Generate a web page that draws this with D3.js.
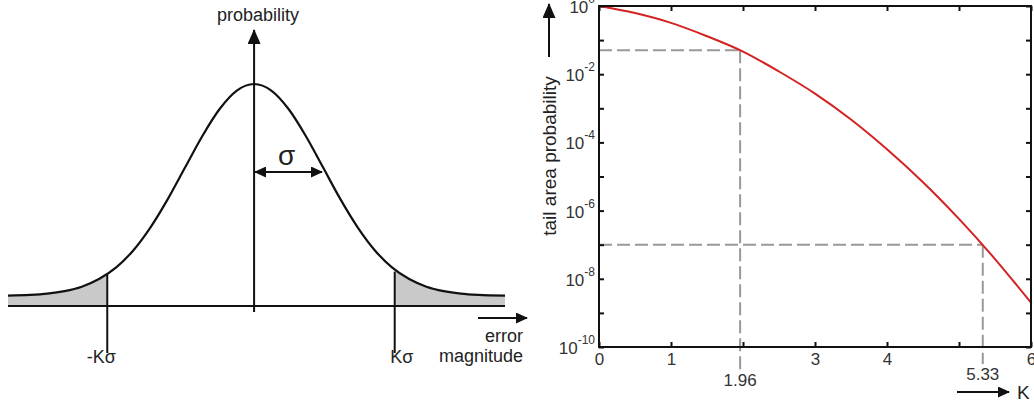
<!DOCTYPE html>
<html>
<head>
<meta charset="utf-8">
<script src="https://cdn.jsdelivr.net/npm/d3@7"></script>
<style>
  body { margin: 0; background: #fff; }
  text { font-family: "Liberation Sans", Arial, sans-serif; }
</style>
</head>
<body>
<svg></svg>
<script>
// ---- data ----
// left: bell curve, x in sigma units, y relative height
const bellX = [-3.57, -3.25, -3, -2.75, -2.5, -2.25, -2, -1.75, -1.5, -1.25, -1, -0.75, -0.5, -0.25, 0,
               0.25, 0.5, 0.75, 1, 1.25, 1.5, 1.75, 2, 2.25, 2.5, 2.75, 3, 3.25, 3.64];
const bellY = [0.002, 0.005, 0.011, 0.023, 0.044, 0.08, 0.135, 0.216, 0.325, 0.458, 0.607, 0.755, 0.882, 0.969, 1,
               0.969, 0.882, 0.755, 0.607, 0.458, 0.325, 0.216, 0.135, 0.08, 0.044, 0.023, 0.011, 0.005, 0.0015];
const kMarks = [-2.13, 2.04];
const kLabels = ["-K\u03c3", "K\u03c3"];

// right: tail area probability vs K
const tailK = [0, 0.5, 1, 1.5, 2, 2.5, 3, 3.5, 4, 4.5, 5, 5.5, 6];
const tailP = [1, 0.62, 0.32, 0.13, 0.046, 0.012, 0.0027, 4.7e-4, 6.3e-5, 6.8e-6, 5.7e-7, 3.8e-8, 2.0e-9];
const guideK = [1.96, 5.33];
const guideP = [0.05, 1.0e-7];
const guideLabels = ["1.96", "5.33"];
const xTicks = [0, 1, 2, 3, 4, 5, 6];
const xTickLabels = ["0", "1", "", "3", "4", "", "6"];
const yExp = [0, -1, -2, -3, -4, -5, -6, -7, -8, -9, -10];
const yLabelExp = [0, -2, -4, -6, -8, -10];

const width = 1034, height = 407;
let svg = d3.select("svg").attr("width", width).attr("height", height);

let defs = svg.append("defs");
function arrowMarker(id, len, wid) {
  defs.append("marker")
    .attr("id", id)
    .attr("markerUnits", "userSpaceOnUse")
    .attr("viewBox", `0 ${-wid / 2} ${len} ${wid}`)
    .attr("refX", len - 1).attr("refY", 0)
    .attr("markerWidth", len).attr("markerHeight", wid)
    .attr("orient", "auto-start-reverse")
    .append("path")
    .attr("d", `M0,${-wid / 2}L${len},0L0,${wid / 2}Z`)
    .attr("fill", "#111");
}
arrowMarker("arrowBig", 15, 13);
arrowMarker("arrowSmall", 12, 11);

// ================= left panel =================
const xL = d3.scaleLinear().domain([-3.57, 3.64]).range([8, 505]);
const yL = d3.scaleLinear().domain([0, 1]).range([296, 84]);
const baseY = 306;
let bell = bellX.map((x, i) => ({x: x, y: bellY[i]}));

let left = svg.append("g");

defs.append("clipPath").attr("id", "tails")
  .selectAll("rect")
  .data([[0, xL(kMarks[0])], [xL(kMarks[1]), width / 2]])
  .enter().append("rect")
  .attr("x", d => d[0]).attr("width", d => d[1] - d[0])
  .attr("y", 0).attr("height", height);

left.append("path")
  .datum(bell)
  .attr("clip-path", "url(#tails)")
  .attr("fill", "#c9c9c9")
  .attr("d", d3.area().x(d => xL(d.x)).y0(baseY).y1(d => yL(d.y)).curve(d3.curveMonotoneX));

left.append("line")
  .attr("x1", xL(-3.57)).attr("x2", xL(3.64))
  .attr("y1", baseY).attr("y2", baseY)
  .attr("stroke", "#111").attr("stroke-width", 2);

left.append("path")
  .datum(bell)
  .attr("fill", "none").attr("stroke", "#111").attr("stroke-width", 2.2)
  .attr("d", d3.line().x(d => xL(d.x)).y(d => yL(d.y)).curve(d3.curveMonotoneX));

// vertical probability axis
left.append("line")
  .attr("x1", xL(0)).attr("x2", xL(0))
  .attr("y1", 312).attr("y2", 30)
  .attr("stroke", "#111").attr("stroke-width", 2)
  .attr("marker-end", "url(#arrowBig)");

left.append("text")
  .attr("x", xL(0) + 4).attr("y", 21)
  .attr("text-anchor", "middle").attr("font-size", 18).attr("fill", "#222")
  .text("probability");

// K sigma markers
left.selectAll(".kline")
  .data(kMarks)
  .enter().append("line")
  .attr("x1", d => xL(d)).attr("x2", d => xL(d))
  .attr("y1", (d, i) => yL(i === 0 ? 0.1 : 0.115)).attr("y2", 353)
  .attr("stroke", "#111").attr("stroke-width", 2);

left.selectAll(".klabel")
  .data(kMarks)
  .enter().append("text")
  .attr("x", (d, i) => xL(d) + (i === 0 ? -6 : 7)).attr("y", 363)
  .attr("text-anchor", "middle").attr("font-size", 18).attr("fill", "#222")
  .text((d, i) => kLabels[i]);

// sigma arrow
left.append("line")
  .attr("x1", xL(0) + 1).attr("x2", xL(1) - 1)
  .attr("y1", 172).attr("y2", 172)
  .attr("stroke", "#111").attr("stroke-width", 2)
  .attr("marker-start", "url(#arrowSmall)")
  .attr("marker-end", "url(#arrowSmall)");

left.append("text")
  .attr("x", (xL(0) + xL(1)) / 2 - 2).attr("y", 165)
  .attr("text-anchor", "middle").attr("font-size", 28).attr("fill", "#222")
  .text("\u03c3");

// error magnitude arrow
left.append("line")
  .attr("x1", 478).attr("x2", 527)
  .attr("y1", 318).attr("y2", 318)
  .attr("stroke", "#111").attr("stroke-width", 2)
  .attr("marker-end", "url(#arrowSmall)");

left.selectAll(".errlabel")
  .data(["error", "magnitude"])
  .enter().append("text")
  .attr("x", 523).attr("y", (d, i) => 342 + i * 20)
  .attr("text-anchor", "end").attr("font-size", 18).attr("fill", "#222")
  .text(d => d);

// ================= right panel =================
const xR = d3.scaleLinear().domain([0, 6]).range([599, 1031]);
const yR = d3.scaleLog().domain([1e-10, 1]).range([347, 6]);
let right = svg.append("g");

// guide lines
let guides = guideK.map((k, i) => ({k: k, p: guideP[i], label: guideLabels[i]}));
right.selectAll(".hguide")
  .data(guides)
  .enter().append("line")
  .attr("x1", xR(0)).attr("x2", d => xR(d.k))
  .attr("y1", d => yR(d.p)).attr("y2", d => yR(d.p))
  .attr("stroke", "#999").attr("stroke-width", 2).attr("stroke-dasharray", "13,5");

right.selectAll(".vguide")
  .data(guides)
  .enter().append("line")
  .attr("x1", d => xR(d.k)).attr("x2", d => xR(d.k))
  .attr("y1", d => yR(d.p)).attr("y2", (d, i) => i === 0 ? 372 : 364)
  .attr("stroke", "#999").attr("stroke-width", 2).attr("stroke-dasharray", "13,5");

right.selectAll(".glabel")
  .data(guides)
  .enter().append("text")
  .attr("x", d => xR(d.k)).attr("y", (d, i) => i === 0 ? 386 : 380)
  .attr("text-anchor", "middle").attr("font-size", 17).attr("fill", "#333")
  .text(d => d.label);

// red tail curve
let tail = tailK.map((k, i) => ({k: k, p: tailP[i]}));
right.append("path")
  .datum(tail)
  .attr("fill", "none").attr("stroke", "#d42222").attr("stroke-width", 2)
  .attr("d", d3.line().x(d => xR(d.k)).y(d => yR(d.p)).curve(d3.curveMonotoneX));

// axes: ticks pointing inward on all four sides
const yTickVals = yExp.map(e => Math.pow(10, e));
let bottomAxis = d3.axisBottom(xR).tickValues(xTicks).tickSize(-5).tickPadding(6)
  .tickFormat((d, i) => xTickLabels[i]);
let topAxis = d3.axisTop(xR).tickValues(xTicks).tickSize(-5).tickFormat("");
let leftAxis = d3.axisLeft(yR).tickValues(yTickVals).tickSize(-5).tickFormat("");
let rightAxis = d3.axisRight(yR).tickValues(yTickVals).tickSize(-5).tickFormat("");

function styleAxis(g) {
  g.select(".domain").remove();
  g.selectAll(".tick line").attr("stroke", "#111").attr("stroke-width", 2);
  g.selectAll(".tick text").attr("font-size", 17).attr("fill", "#333")
    .attr("font-family", "Liberation Sans, Arial, sans-serif");
}
right.append("g").attr("transform", `translate(0,${yR(1e-10)})`).call(bottomAxis).call(styleAxis);
right.append("g").attr("transform", `translate(0,${yR(1)})`).call(topAxis).call(styleAxis);
right.append("g").attr("transform", `translate(${xR(0)},0)`).call(leftAxis).call(styleAxis);
right.append("g").attr("transform", `translate(${xR(6)},0)`).call(rightAxis).call(styleAxis);

right.append("rect")
  .attr("x", xR(0)).attr("y", yR(1))
  .attr("width", xR(6) - xR(0)).attr("height", yR(1e-10) - yR(1))
  .attr("fill", "none").attr("stroke", "#111").attr("stroke-width", 2);

// y tick labels with superscripts
let ylab = right.selectAll(".ylabel")
  .data(yLabelExp)
  .enter().append("text")
  .attr("x", 595).attr("y", d => yR(Math.pow(10, d)) + 7)
  .attr("text-anchor", "end").attr("font-size", 17).attr("fill", "#333");
ylab.append("tspan").text("10");
ylab.append("tspan").attr("dy", -10).attr("font-size", 12).text(d => d === 0 ? "0" : "-" + Math.abs(d));

// y title with arrow
right.append("text")
  .attr("transform", `translate(556,${(72 + 240) / 2}) rotate(-90)`)
  .attr("text-anchor", "middle").attr("font-size", 19).attr("fill", "#222")
  .text("tail area probability");

right.append("line")
  .attr("x1", 549).attr("x2", 549)
  .attr("y1", 57).attr("y2", 4)
  .attr("stroke", "#111").attr("stroke-width", 2)
  .attr("marker-end", "url(#arrowBig)");

// K arrow
right.append("line")
  .attr("x1", 957).attr("x2", 1009)
  .attr("y1", 392).attr("y2", 392)
  .attr("stroke", "#111").attr("stroke-width", 2)
  .attr("marker-end", "url(#arrowSmall)");

right.append("text")
  .attr("x", 1017).attr("y", 399)
  .attr("font-size", 19).attr("fill", "#222")
  .text("K");
</script>
</body>
</html>
